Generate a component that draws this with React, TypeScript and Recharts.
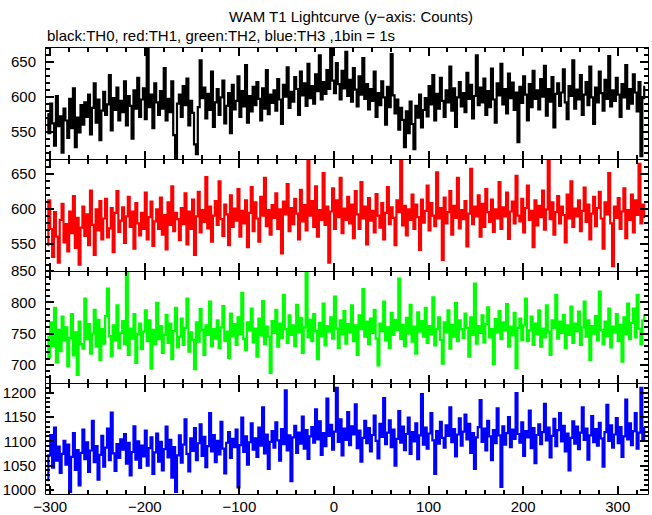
import React from 'react';
import { Line, LineChart, XAxis, YAxis } from 'recharts';

// time bins (s), first bin at -303 s
const T_START = -303;
const BIN_SEC = 2;

// TH0 counts (black)
const th0 = [
  575, 548, 590, 562, 530, 601, 558, 572, 520, 583,
  566, 541, 597, 555, 612, 528, 570, 549, 588, 560,
  592, 571, 603, 546, 584, 619, 563, 596, 538, 580,
  607, 574, 589, 631, 552, 598, 581, 613, 566, 594,
  578, 622, 559, 601, 587, 540, 609, 583, 627, 571,
  596, 612, 568, 668, 585, 603, 555, 619, 592, 574,
  608, 583, 641, 566, 597, 578, 622, 545, 512, 590,
  603, 571, 615, 588, 626, 559, 594, 577, 532, 518,
  585, 652, 598, 613, 569, 604, 581, 636, 557, 592,
  611, 574, 599, 623, 562, 587, 605, 548, 617, 582,
  594, 629, 571, 608, 586, 645, 563, 601, 579, 614,
  588, 621, 597, 566, 612, 583, 638, 575, 603, 591,
  609, 580, 625, 596, 561, 617, 600, 642, 584, 607,
  593, 628, 611, 574, 636, 602, 619, 587, 647, 598,
  615, 590, 632, 608, 659, 596, 621, 604, 638, 611,
  669, 623, 605, 648, 618, 596, 637, 612, 664, 601,
  624, 593, 641, 610, 586, 629, 603, 655, 597, 618,
  582, 611, 594, 636, 571, 605, 588, 622, 599, 560,
  614, 585, 661, 602, 576, 596, 553, 584, 567, 528,
  579, 548, 593, 561, 525, 587, 570, 603, 556, 581,
  598, 572, 615, 589, 631, 566, 604, 583, 627, 594,
  571, 609, 592, 643, 580, 612, 557, 599, 621, 586,
  605, 578, 634, 597, 617, 569, 601, 659, 588, 613,
  592, 626, 574, 608, 585, 640, 596, 563, 619, 602,
  647, 589, 611, 576, 633, 598, 620, 581, 606, 535,
  614, 591, 629, 603, 566, 618, 585, 637, 597, 609,
  582, 625, 600, 644, 573, 611, 593, 628, 556, 604,
  619, 587, 606, 639, 592, 568, 615, 601, 652, 583,
  610, 596, 631, 574, 603, 621, 588, 643, 599, 561,
  613, 592, 636, 605, 580, 624, 597, 658, 586, 609,
  594, 627, 603, 571, 618, 599, 645, 583, 611, 590,
  632, 606, 579, 621, 515, 598, 614,
];

// TH1 counts (red)
const th1 = [
  548, 612, 571, 531, 595, 560, 523, 584, 607, 552,
  578, 539, 596, 565, 618, 544, 587, 520, 573, 603,
  561, 592, 548, 626, 577, 534, 599, 569, 611, 556,
  586, 614, 559, 572, 601, 538, 594, 625, 567, 583,
  602, 551, 589, 617, 574, 596, 543, 608, 579, 562,
  594, 571, 623, 556, 588, 610, 547, 582, 599, 571,
  616, 563, 591, 542, 609, 577, 632, 568, 594, 585,
  555, 601, 578, 622, 549, 596, 571, 613, 534, 589,
  624, 566, 598, 581, 645, 572, 603, 553, 590, 611,
  577, 639, 585, 561, 606, 592, 548, 619, 574, 600,
  583, 628, 560, 597, 579, 612, 545, 594, 631, 568,
  609, 586, 553, 617, 590, 644, 575, 598, 563, 605,
  587, 622, 571, 599, 536, 610, 592, 635, 568, 601,
  578, 614, 593, 556, 627, 582, 605, 569, 669, 590,
  611, 574, 632, 560, 598, 584, 651, 577, 603, 523,
  596, 629, 571, 612, 588, 644, 565, 600, 584, 617,
  579, 606, 558, 625, 592, 571, 638, 586, 603, 549,
  615, 583, 597, 566, 621, 590, 573, 608, 556, 594,
  631, 578, 602, 587, 548, 612, 595, 669, 576, 604,
  562, 599, 584, 620, 571, 606, 588, 541, 613, 580,
  597, 633, 569, 608, 590, 575, 652, 586, 601, 527,
  616, 579, 595, 625, 563, 604, 587, 644, 572, 598,
  585, 611, 546, 593, 657, 578, 603, 589, 619, 560,
  607, 574, 628, 595, 581, 613, 567, 599, 586, 638,
  571, 602, 589, 623, 557, 596, 610, 579, 647, 590,
  582, 614, 566, 601, 633, 584, 597, 545, 612, 576,
  604, 588, 626, 570, 599, 668, 585, 609, 563, 595,
  618, 579, 603, 591, 552, 620, 586, 639, 574, 600,
  589, 612, 568, 597, 630, 581, 606, 556, 593, 617,
  575, 601, 624, 586, 543, 609, 592, 651, 579, 518,
  603, 587, 615, 571, 596, 629, 558, 598, 584, 620,
  566, 612, 591, 664, 579, 606, 588,
];

// TH2 counts (green)
const th2 = [
  745, 712, 768, 730, 791, 704, 756, 722, 777, 739,
  760, 698, 743, 781, 715, 752, 684, 769, 733, 726,
  806, 741, 765, 718, 750, 788, 729, 772, 708, 757,
  734, 778, 822, 746, 714, 763, 739, 795, 727, 751,
  770, 733, 848, 716, 758, 742, 781, 703, 749, 766,
  725, 753, 787, 738, 771, 694, 756, 733, 799, 741,
  762, 719, 748, 780, 735, 766, 709, 754, 791, 728,
  745, 774, 732, 759, 806, 721, 752, 740, 693, 768,
  737, 789, 756, 716, 763, 748, 801, 730, 757, 742,
  771, 727, 760, 794, 738, 753, 711, 782, 746, 765,
  732, 776, 749, 815, 741, 724, 768, 755, 790, 736,
  758, 713, 774, 747, 802, 733, 761, 745, 687, 770,
  751, 788, 729, 766, 743, 812, 757, 735, 779, 748,
  763, 730, 796, 752, 775, 719, 760, 849, 744, 772,
  738, 781, 754, 709, 767, 746, 798, 731, 762, 753,
  776, 742, 809, 758, 727, 771, 749, 786, 734, 765,
  752, 795, 738, 763, 716, 779, 757, 821, 745, 769,
  733, 774, 751, 788, 742, 699, 766, 754, 801, 739,
  760, 727, 783, 748, 772, 756, 838, 741, 764, 730,
  775, 750, 796, 737, 761, 718, 784, 753, 770, 745,
  791, 735, 762, 749, 808, 731, 757, 776, 740, 702,
  768, 752, 787, 726, 764, 745, 799, 738, 771, 757,
  743, 782, 759, 713, 776, 748, 830, 734, 762, 751,
  779, 736, 765, 792, 744, 757, 701, 773, 752, 786,
  741, 768, 755, 797, 729, 761, 747, 783, 695, 759,
  774, 740, 763, 806, 738, 755, 777, 732, 766, 749,
  787, 729, 758, 744, 795, 753, 716, 771, 759, 812,
  742, 769, 751, 780, 727, 763, 748, 793, 735, 766,
  754, 785, 732, 760, 801, 745, 771, 708, 762, 750,
  778, 739, 817, 756, 733, 769, 746, 790, 728, 761,
  752, 781, 738, 764, 705, 776, 749, 798, 741, 767,
  790, 744, 812, 758, 733, 771, 779,
];

// TH3 counts (blue)
const th3 = [
  1020, 1071, 1113, 1046, 1128, 1060, 1089, 1035, 1074, 1101,
  1052, 1093, 996, 1068, 1117, 1041, 1082, 1009, 1076, 1124,
  1063, 1098, 1037, 1081, 1142, 1057, 1090, 1021, 1072, 1111,
  1048, 1087, 1126, 1061, 1159, 1075, 1039, 1094, 1066, 1104,
  1083, 1115, 1054, 1097, 1030, 1078, 1131, 1062, 1100, 1045,
  1091, 1069, 1122, 1050, 1086, 1108, 1033, 1077, 1116, 1058,
  1099, 1040, 1084, 1130, 1067, 1103, 1025, 1088, 996, 1071,
  1112, 1056, 1093, 1145, 1074, 1038, 1106, 1080, 1127, 1061,
  1096, 1135, 1070, 1109, 1047, 1090, 1158, 1079, 1113, 1057,
  1101, 1073, 1140, 1085, 1034, 1097, 1119, 1066, 1105, 1088,
  1124, 1005, 1092, 1149, 1078, 1110, 1052, 1098, 1137, 1083,
  1106, 1068, 1128, 1091, 1170, 1075, 1114, 1043, 1099, 1121,
  1087, 1139, 1102, 1060, 1125, 1094, 1205, 1081, 1112, 1018,
  1108, 1132, 1076, 1118, 1095, 1151, 1085, 1123, 1064, 1110,
  1129, 1097, 1166, 1104, 1141, 1072, 1117, 1090, 1188, 1111,
  1134, 1083, 1120, 1210, 1099, 1145, 1071, 1126, 1103, 1160,
  1092, 1131, 1114, 1176, 1086, 1122, 1058, 1107, 1142, 1096,
  1127, 1079, 1113, 1153, 1101, 1065, 1136, 1109, 1189, 1094,
  1118, 1143, 1088, 1124, 1050, 1105, 1162, 1097, 1130, 1082,
  1115, 1149, 1074, 1119, 1100, 1137, 1063, 1112, 1197, 1093,
  1128, 1085, 1116, 1158, 1102, 1033, 1121, 1095, 1140, 1107,
  1087, 1133, 1111, 1170, 1098, 1125, 1069, 1114, 1147, 1091,
  1120, 1155, 1104, 1136, 1076, 1117, 1043, 1108, 1129, 1185,
  1099, 1126, 1081, 1142, 1110, 1061, 1123, 1096, 1168, 1112,
  1006, 1131, 1093, 1117, 1150, 1088, 1124, 1105, 1199, 1115,
  1097, 1139, 1070, 1121, 1108, 1163, 1086, 1127, 1055, 1113,
  1135, 1094, 1119, 1177, 1102, 1128, 1067, 1111, 1146, 1090,
  1123, 1158, 1100, 1132, 1079, 1116, 1040, 1107, 1141, 1095,
  1130, 1084, 1118, 1170, 1103, 1126, 1062, 1112, 1152, 1098,
  1125, 1091, 1138, 1106, 1048, 1119, 1175, 1101, 1133, 1087,
  1114, 1148, 1096, 1129, 1068, 1110, 1186, 1104, 1137, 1092,
  1121, 1158, 1085, 1118, 1210, 1102, 1127,
];

const xTicks = [
  -300, -280, -260, -240, -220, -200, -180, -160, -140, -120, -100, -80, -60, -40, -20,
  0, 20, 40, 60, 80, 100, 120, 140, 160, 180, 200, 220, 240, 260, 280, 300, 320,
];
const xLabels = [-300, -200, -100, 0, 100, 200, 300];

const lowTicks = [520, 530, 540, 550, 560, 570, 580, 590, 600, 610, 620, 630, 640, 650, 660, 670];
const lowLabels = [550, 600, 650];
const th2Ticks = [680, 690, 700, 710, 720, 730, 740, 750, 760, 770, 780, 790, 800, 810, 820, 830, 840, 850];
const th2Labels = [700, 750, 800, 850];
const th3Ticks = [
  1000, 1010, 1020, 1030, 1040, 1050, 1060, 1070, 1080, 1090, 1100, 1110,
  1120, 1130, 1140, 1150, 1160, 1170, 1180, 1190, 1200, 1210,
];
const th3Labels = [1000, 1050, 1100, 1150, 1200];

const FONT = '"Liberation Sans", Arial, Helvetica, sans-serif';
const X_DOMAIN: [number, number] = [-304.5, 332];
const W = 652;
const PAD = 10;
const PLOT_L = 46;
const PLOT_R = 648;
const PLOT_W = PLOT_R - PLOT_L;
const MAJOR_LEN = 9;
const MINOR_LEN = 5;

const panels = [
  { id: 'th0', values: th0, color: '#000000', domain: [511, 671], ticks: lowTicks, labels: lowLabels, top: 47, h: 112 },
  { id: 'th1', values: th1, color: '#ff0000', domain: [511, 671], ticks: lowTicks, labels: lowLabels, top: 159, h: 112 },
  { id: 'th2', values: th2, color: '#00ff00', domain: [671, 850], ticks: th2Ticks, labels: th2Labels, top: 271, h: 112 },
  { id: 'th3', values: th3, color: '#0000ff', domain: [991.5, 1220], ticks: th3Ticks, labels: th3Labels, top: 383, h: 111 },
];

const fmt = (v: number) => (v < 0 ? '\u2212' + Math.abs(v) : String(v));

function makeYLabel(labels: number[]) {
  return (props: any) => {
    const v = props.payload.value;
    if (!labels.includes(v)) return <g />;
    return (
      <text x={36} y={Number(props.y)} dy="0.36em" textAnchor="end" fontSize={15} fontFamily={FONT} fill="#000">
        {fmt(v)}
      </text>
    );
  };
}

function makeXLabel(show: boolean) {
  return (props: any) => {
    const v = props.payload.value;
    if (!show || !xLabels.includes(v)) return <g />;
    return (
      <text x={Number(props.x)} y={Number(props.y) + 13} dy="0.36em" textAnchor="middle" fontSize={15} fontFamily={FONT} fill="#000">
        {fmt(v)}
      </text>
    );
  };
}

// frame with inward ticks on all four sides (overlay, same linear mapping as the chart)
function Frame({ p }: { p: (typeof panels)[number] }) {
  const [x0, x1] = X_DOMAIN;
  const [y0, y1] = p.domain;
  const px = (v: number) => Math.round(PLOT_L + ((v - x0) / (x1 - x0)) * PLOT_W);
  const py = (v: number) => Math.round(PAD + ((y1 - v) / (y1 - y0)) * p.h);
  const top = PAD + 0.5;
  const bot = PAD + p.h + 0.5;
  const left = PLOT_L - 0.5;
  const right = PLOT_R + 0.5;
  const frame = `M${left},${top}H${right}V${bot}H${left}Z`;
  const marks: string[] = [];
  p.ticks.forEach((v) => {
    const len = p.labels.includes(v) ? MAJOR_LEN : MINOR_LEN;
    const y = py(v);
    marks.push(`M${PLOT_L - 1},${y}h${len}`, `M${PLOT_R + 1},${y}h${-len}`);
  });
  xTicks.forEach((v) => {
    const len = xLabels.includes(v) ? MAJOR_LEN : MINOR_LEN;
    const x = px(v);
    marks.push(`M${x},${PAD + p.h + 1}v${-len}`, `M${x},${PAD}v${len}`);
  });
  return (
    <svg
      width={W}
      height={PAD * 2 + p.h}
      style={{ position: 'absolute', left: 0, top: 0, pointerEvents: 'none' }}
    >
      <path d={frame} stroke="#000" strokeWidth={1} fill="none" />
      <path d={marks.join('')} stroke="#000" strokeWidth={2} fill="none" />
    </svg>
  );
}

function Panel({ p, last }: { p: (typeof panels)[number]; last: boolean }) {
  const rows = p.values.map((v, i) => ({ t: T_START + i * BIN_SEC, v }));
  const bottomH = last ? 22 : PAD;
  const height = PAD + p.h + bottomH;
  return (
    <div style={{ position: 'absolute', left: 0, top: p.top - PAD }}>
      <LineChart
        width={W}
        height={height}
        data={rows}
        margin={{ top: PAD, right: W - PLOT_R, bottom: 0, left: 0 }}
      >
        <XAxis
          dataKey="t"
          type="number"
          domain={X_DOMAIN}
          allowDataOverflow
          ticks={xTicks}
          interval={0}
          height={bottomH}
          tickSize={0}
          tickMargin={0}
          tickLine={false}
          axisLine={false}
          tick={makeXLabel(last)}
        />
        <YAxis
          type="number"
          domain={p.domain}
          allowDataOverflow
          ticks={p.ticks}
          interval={0}
          width={PLOT_L}
          tickSize={0}
          tickMargin={10}
          tickLine={false}
          axisLine={false}
          tick={makeYLabel(p.labels)}
        />
        <Line
          type="step"
          dataKey="v"
          stroke={p.color}
          strokeWidth={2.2}
          dot={false}
          isAnimationActive={false}
        />
      </LineChart>
      <Frame p={p} />
    </div>
  );
}

export default function App() {
  return (
    <div
      style={{
        position: 'absolute',
        left: 0,
        top: 0,
        width: W,
        height: 515,
        background: '#fff',
        fontFamily: FONT,
        color: '#000',
      }}
    >
      <div style={{ position: 'absolute', left: 0, width: 702, top: 8, textAlign: 'center', fontSize: 15, lineHeight: '18px' }}>
        WAM T1 Lightcurve (y&#8722;axis: Counts)
      </div>
      <div style={{ position: 'absolute', left: 47, top: 27, fontSize: 15, lineHeight: '18px', whiteSpace: 'nowrap' }}>
        black:TH0, red:TH1, green:TH2, blue:TH3 ,1bin = 1s
      </div>
      {panels.map((p, i) => (
        <Panel key={p.id} p={p} last={i === panels.length - 1} />
      ))}
    </div>
  );
}
